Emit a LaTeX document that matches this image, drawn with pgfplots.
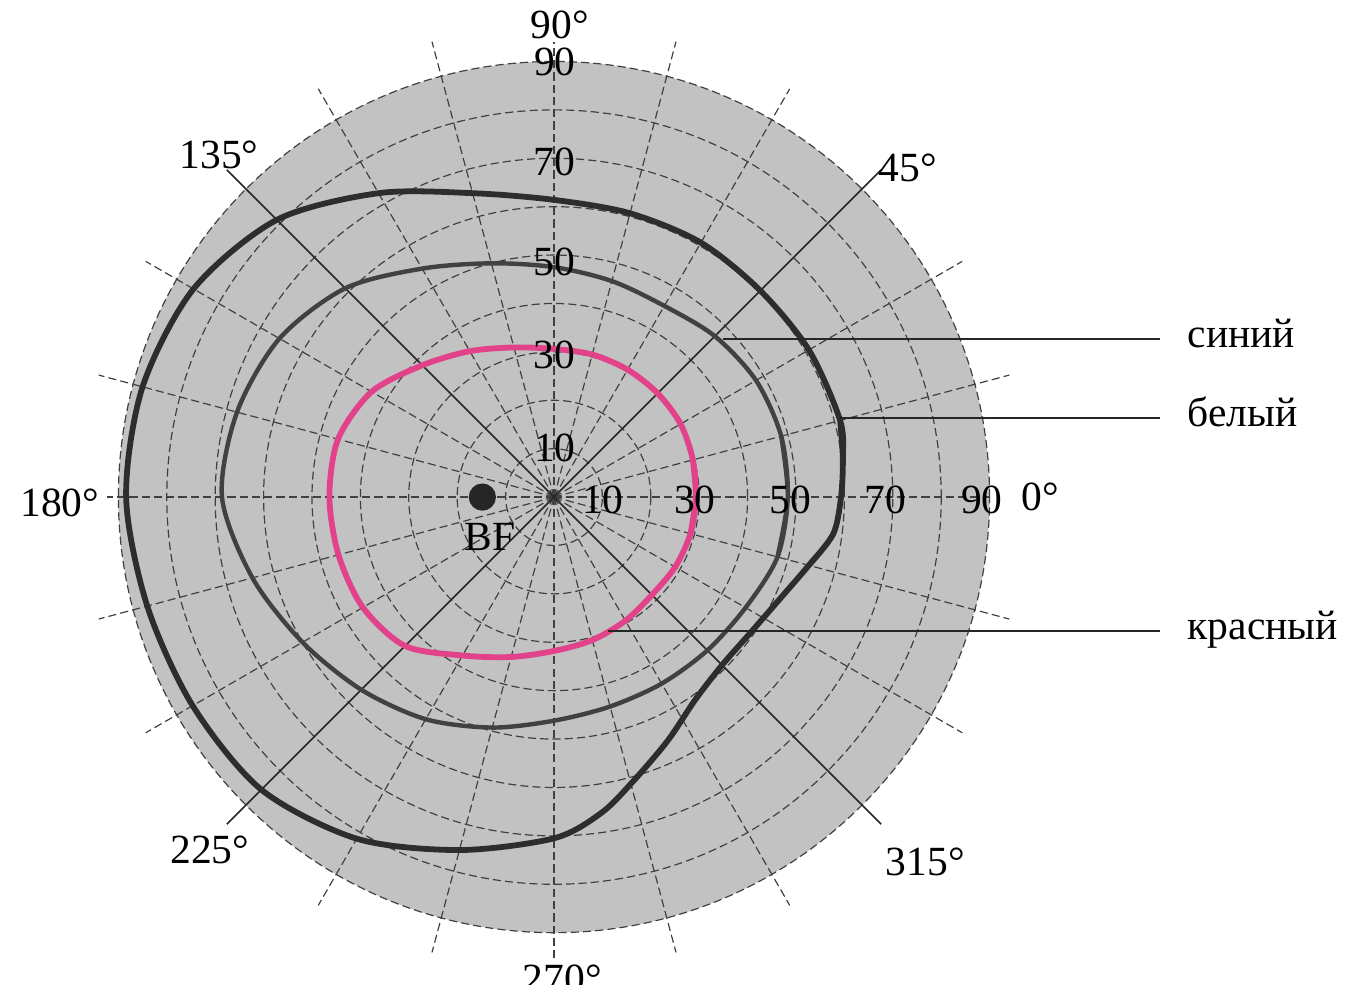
\documentclass[border=0pt]{standalone}
\usepackage{pgfplots}
\pgfplotsset{compat=1.18}
\usepackage{fontspec}
\setmainfont{Liberation Serif}
\definecolor{pinkc}{RGB}{226,66,138}
\definecolor{discgray}{gray}{0.76}
\definecolor{whitec}{RGB}{45,45,45}
\definecolor{bluec}{RGB}{65,65,65}
\newcommand{\lbl}{\fontsize{12.2}{14}\selectfont}
\tikzset{dashgrid/.style={black!75,line width=0.35pt,dash pattern=on 2.4pt off 1.2pt}}

\begin{document}
\begin{tikzpicture}
\begin{axis}[
  x=0.05cm, y=0.05cm,
  xmin=-114.46, xmax=165.7, ymin=-100.8, ymax=102.7,
  hide axis, clip=false, scale only axis,
]
\coordinate (LL) at (axis cs:-114.46,-100.8);
\coordinate (UR) at (axis cs:165.7,102.7);
% disc
\fill[discgray] (axis cs:0,0) circle[radius=4.5cm];
% dashed circles
\pgfplotsinvokeforeach{10,20,30,40,50,60,70,80,90}{
  \draw[dashgrid] (axis cs:0,0) circle[radius=#1*0.05cm];
}
% dashed radials
\pgfplotsinvokeforeach{15,30,60,75,105,120,150,165,195,210,240,255,285,300,330,345}{
  \draw[dashgrid] (axis cs:0,0) -- ++(#1:4.87cm);
}
\draw[dashgrid] (axis cs:0,0) -- ++(0:4.5cm);
\draw[dashgrid] (axis cs:0,0) -- ++(90:4.7cm);
\draw[dashgrid] (axis cs:0,0) -- ++(180:4.62cm);
\draw[dashgrid] (axis cs:0,0) -- ++(270:4.8cm);
% solid diagonals
\pgfplotsinvokeforeach{45,135,225,315}{
  \draw[black!85,line width=0.45pt] (axis cs:0,0) -- ++(#1:4.78cm);
}
% isopters (angle, degrees of field)
\addplot[color=whitec, line width=1.7pt, smooth, data cs=polar] coordinates {
(-15,54.5) (-7.5,58.2) (0,59.3) (7.5,60.2) (15,61.2) (30,60.8) (45,60.3) (60,60.7) (75,60.7) (90,61.4)
(105,65) (120,72.5) (135,81) (150,86) (165,88) (180,88.4) (195,87) (210,86.2)
(225,85.5) (240,81.5) (255,75.5) (270,70.5) (278.5,66) (285.8,60.8) (295.1,55.5)
(305,51) (315,49.1) (325,49.3) (335,51.0) (345,54.5) (352.5,58.2)
(360,59.3) (367.5,60.2) (375,61.2)
};
\addplot[color=bluec, line width=1.3pt, smooth, data cs=polar] coordinates {
(-15,47.8) (0,48.3) (15,48.6) (30,48.2) (45,47) (60,45.6) (75,46.2) (90,47.5)
(105,50) (120,54.5) (135,61) (150,65.5) (165,67.8) (180,68.6) (195,64.5) (210,60)
(225,56.3) (240,53) (255,49.3) (270,46.2) (285,44.8) (300,44.5) (315,44.8)
(330,45.7) (345,47.8) (360,48.3) (375,48.6)
};
\addplot[color=pinkc, line width=1.7pt, smooth, data cs=polar] coordinates {
(-15,29.2) (0,29.3) (15,29.7) (30,30.2) (45,30.3) (60,30.4) (75,30.5) (90,30.6)
(105,32) (120,34.8) (135,38.5) (150,43.5) (165,46.2) (180,46.4) (195,46.1) (210,45.6)
(225,43.5) (240,37.8) (255,34.2) (270,31.8) (285,30.6) (300,29.5) (315,28.6)
(330,28.9) (345,29.2) (360,29.3) (375,29.7)
};
% blind spot
\addplot[only marks, mark=*, mark size=3.8pt, color=black!85] coordinates {(-14.8,0)};
\node[font=\lbl] at (axis cs:-13.2,-8.3) {BF};
% scale labels
\node[font=\lbl] at (axis cs:0.2,89.9) {90};
\node[font=\lbl] at (axis cs:0,69.2) {70};
\node[font=\lbl] at (axis cs:0,48.6) {50};
\node[font=\lbl] at (axis cs:0,29.3) {30};
\node[font=\lbl] at (axis cs:0.2,10.1) {10};
\node[font=\lbl] at (axis cs:10.1,-0.6) {10};
\node[font=\lbl] at (axis cs:29.1,-0.6) {30};
\node[font=\lbl] at (axis cs:48.8,-0.6) {50};
\node[font=\lbl] at (axis cs:68.4,-0.6) {70};
\node[font=\lbl] at (axis cs:88.4,-0.6) {90};
% angle labels
\node[font=\lbl] at (axis cs:100.4,0) {0°};
\node[font=\lbl] at (axis cs:1.2,97.5) {90°};
\node[font=\lbl] at (axis cs:73.1,68.0) {45°};
\node[font=\lbl] at (axis cs:-69.2,70.7) {135°};
\node[font=\lbl] at (axis cs:-102.1,-1.2) {180°};
\node[font=\lbl] at (axis cs:-71.1,-72.9) {225°};
\node[font=\lbl] at (axis cs:1.7,-99.6) {270°};
\node[font=\lbl] at (axis cs:76.7,-75.4) {315°};
% leader lines and names
\draw[black!85,line width=0.5pt] (axis cs:34.9,32.6) -- (axis cs:125.2,32.6);
\draw[black!85,line width=0.5pt] (axis cs:59.1,16.3) -- (axis cs:125.2,16.3);
\draw[black!85,line width=0.5pt] (axis cs:11.2,-27.7) -- (axis cs:125.2,-27.7);
\node[font=\lbl, anchor=base west, inner sep=0pt] at (axis cs:130.8,30.8) {синий};
\node[font=\lbl, anchor=base west, inner sep=0pt] at (axis cs:130.8,14.5) {белый};
\node[font=\lbl, anchor=base west, inner sep=0pt] at (axis cs:130.8,-29.5) {красный};
\end{axis}
\pgfresetboundingbox
\useasboundingbox (LL) rectangle (UR);
\end{tikzpicture}
\end{document}
